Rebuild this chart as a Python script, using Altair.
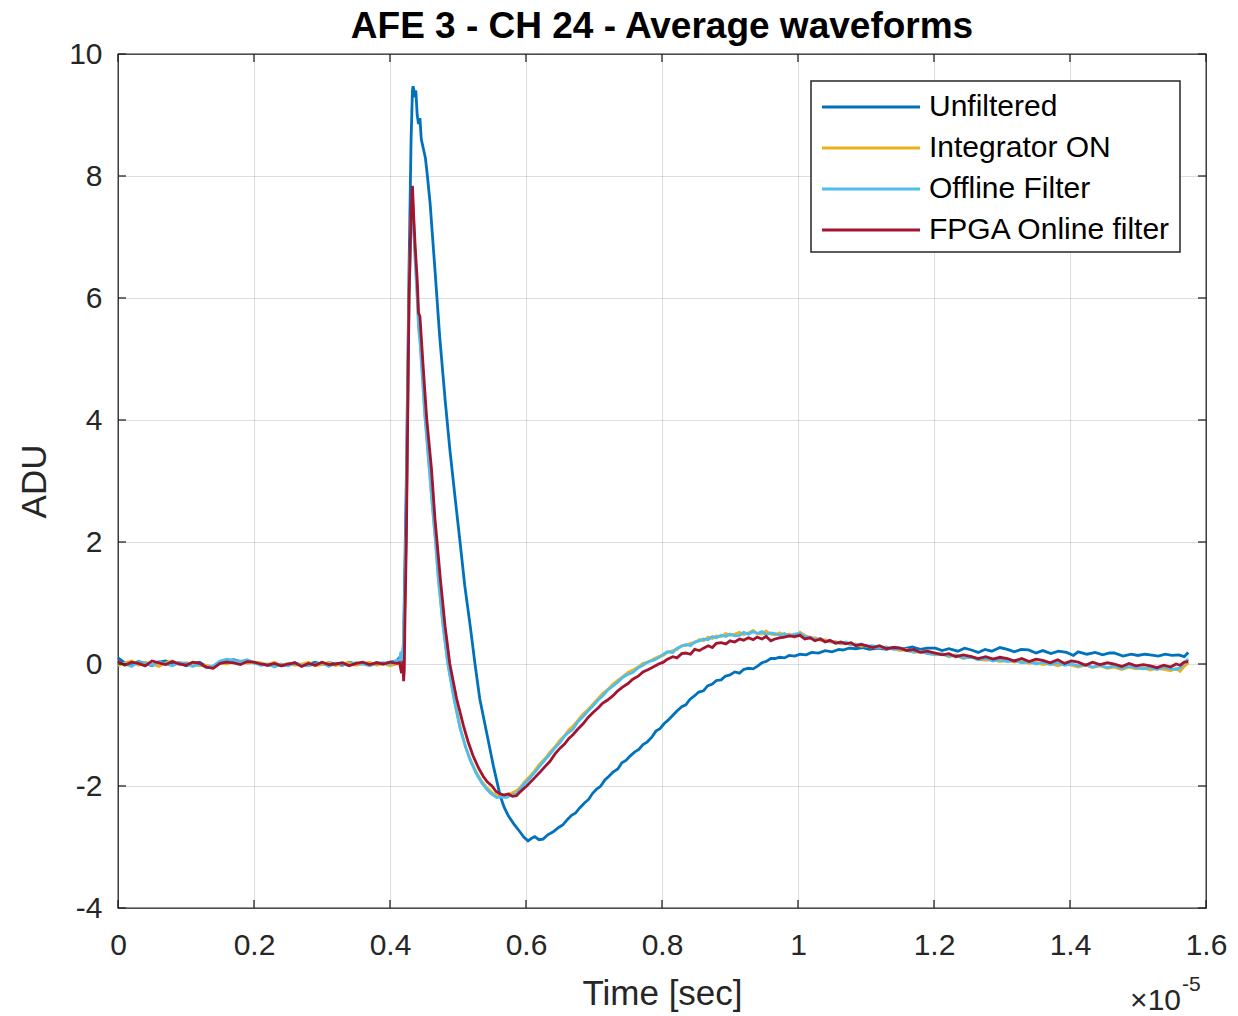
import altair as alt
import pandas as pd

# ---------------- data (time in units of 1e-5 s, amplitude in ADU) ----------------
series_names = ["Unfiltered", "Integrator ON", "Offline Filter", "FPGA Online filter"]
series_colors = ["#0072BD", "#EDB120", "#4DBEEE", "#A2142F"]

t_base = [0.000, 0.010, 0.020, 0.030, 0.040, 0.050, 0.060, 0.070, 0.080, 0.090,
          0.100, 0.110, 0.120, 0.130, 0.140, 0.150, 0.160, 0.170, 0.180, 0.190,
          0.200, 0.210, 0.220, 0.230, 0.240, 0.250, 0.260, 0.270, 0.280, 0.290,
          0.300, 0.310, 0.320, 0.330, 0.340, 0.350, 0.360, 0.370, 0.380, 0.390,
          0.400, 0.410]

base_unfiltered = [0.10, 0.02, -0.02, 0.04, 0.01, -0.03, 0.03, 0.05, 0.00, 0.02,
                   -0.03, 0.01, 0.03, -0.04, -0.06, 0.02, 0.05, 0.07, 0.04, 0.06,
                   0.02, 0.01, -0.02, 0.00, -0.03, -0.01, 0.02, -0.02, 0.00, 0.03,
                   -0.01, 0.02, 0.00, -0.02, 0.03, 0.00, 0.01, -0.02, 0.02, 0.00,
                   0.03, 0.05]
base_integrator = [-0.03, 0.02, 0.05, -0.02, 0.03, 0.00, -0.04, 0.02, 0.05, -0.01,
                   0.02, 0.00, -0.03, -0.02, -0.05, 0.02, 0.00, 0.04, 0.05, 0.01,
                   0.03, 0.02, -0.01, 0.03, -0.02, 0.01, -0.02, 0.00, 0.03, -0.03,
                   -0.01, 0.02, -0.03, 0.01, 0.02, -0.02, 0.00, 0.03, -0.02, 0.01,
                   -0.03, 0.00]
base_offline = [0.02, 0.00, -0.04, 0.03, 0.01, -0.02, 0.04, 0.00, -0.03, 0.02,
                0.01, -0.04, 0.00, -0.06, -0.03, 0.05, 0.08, 0.06, 0.04, 0.07,
                0.02, -0.02, 0.00, -0.05, 0.00, -0.03, 0.01, -0.02, -0.03, 0.00,
                0.02, -0.04, 0.01, 0.00, -0.02, 0.02, 0.00, -0.03, 0.01, 0.02,
                0.00, 0.06]
base_fpga = [0.04, -0.02, 0.03, 0.01, -0.03, 0.05, 0.02, -0.01, 0.04, 0.00,
             -0.02, 0.03, 0.01, -0.05, -0.07, 0.01, 0.03, 0.02, -0.01, 0.04,
             0.03, 0.00, -0.02, 0.01, -0.03, 0.00, 0.02, -0.04, 0.01, -0.02,
             0.03, -0.01, 0.00, 0.02, -0.03, 0.01, 0.03, -0.01, 0.02, 0.00,
             0.03, 0.01]

pulse_unfiltered = [
    (0.415, 0.12), (0.419, 0.20), (0.420, 0.40), (0.424, 3.00), (0.428, 6.50),
    (0.431, 8.60), (0.433, 9.40), (0.434, 9.47), (0.436, 9.35), (0.438, 9.40),
    (0.440, 9.00), (0.442, 8.85), (0.444, 8.95), (0.446, 8.60), (0.449, 8.45),
    (0.452, 8.30), (0.455, 8.00), (0.459, 7.55), (0.466, 6.48), (0.473, 5.38),
    (0.481, 4.34), (0.488, 3.52), (0.496, 2.70), (0.503, 2.00), (0.510, 1.28),
    (0.518, 0.62), (0.525, 0.00), (0.532, -0.57), (0.542, -1.12), (0.552, -1.67),
    (0.562, -2.16), (0.568, -2.35), (0.574, -2.49), (0.582, -2.62), (0.591, -2.75),
    (0.597, -2.84), (0.603, -2.90), (0.609, -2.85), (0.613, -2.83), (0.619, -2.88),
    (0.625, -2.87), (0.632, -2.80), (0.640, -2.75), (0.648, -2.68), (0.654, -2.64),
    (0.660, -2.56), (0.667, -2.48), (0.673, -2.44), (0.679, -2.36), (0.686, -2.28),
    (0.692, -2.22), (0.698, -2.12), (0.704, -2.05), (0.710, -2.00), (0.716, -1.90),
    (0.722, -1.84), (0.728, -1.77), (0.735, -1.72), (0.741, -1.62), (0.747, -1.58),
    (0.753, -1.51), (0.760, -1.44), (0.766, -1.40), (0.772, -1.32), (0.778, -1.28),
    (0.785, -1.20), (0.791, -1.10), (0.797, -1.06), (0.803, -0.98), (0.810, -0.91),
    (0.816, -0.84), (0.822, -0.77), (0.829, -0.70), (0.835, -0.67), (0.841, -0.58),
    (0.848, -0.52), (0.854, -0.46), (0.861, -0.44), (0.867, -0.36), (0.874, -0.33),
    (0.880, -0.27), (0.887, -0.26), (0.893, -0.20), (0.900, -0.18), (0.907, -0.13),
    (0.914, -0.15), (0.920, -0.09), (0.927, -0.07), (0.934, -0.08), (0.940, -0.04),
    (0.947, 0.02), (0.953, 0.04), (0.960, 0.09), (0.966, 0.09), (0.973, 0.11),
    (0.980, 0.10), (0.987, 0.14), (0.995, 0.13), (1.003, 0.16), (1.012, 0.15),
    (1.020, 0.19), (1.030, 0.18), (1.040, 0.22), (1.050, 0.20), (1.060, 0.24),
    (1.066, 0.23), (1.075, 0.26), (1.085, 0.25), (1.095, 0.27), (1.105, 0.24),
    (1.118, 0.26), (1.130, 0.24), (1.142, 0.27), (1.155, 0.25), (1.168, 0.28),
    (1.180, 0.24), (1.190, 0.26), (1.202, 0.26), (1.212, 0.22), (1.222, 0.25),
    (1.235, 0.21), (1.245, 0.26), (1.255, 0.23), (1.265, 0.19), (1.275, 0.24),
    (1.285, 0.21), (1.297, 0.27), (1.308, 0.24), (1.318, 0.20), (1.328, 0.24),
    (1.339, 0.23), (1.350, 0.18), (1.360, 0.22), (1.372, 0.17), (1.383, 0.21),
    (1.395, 0.19), (1.405, 0.14), (1.412, 0.20), (1.425, 0.16), (1.437, 0.19),
    (1.448, 0.15), (1.458, 0.18), (1.465, 0.18), (1.478, 0.13), (1.490, 0.16),
    (1.500, 0.14), (1.510, 0.16), (1.518, 0.15), (1.530, 0.13), (1.540, 0.16),
    (1.550, 0.14), (1.560, 0.15), (1.568, 0.12), (1.574, 0.19),
]

pulse_offline = [
    (0.414, 0.05), (0.416, 0.20), (0.418, 0.05), (0.420, 0.30), (0.422, 1.20),
    (0.424, 2.40), (0.428, 6.00), (0.431, 7.20), (0.433, 7.60), (0.435, 7.10),
    (0.437, 6.60), (0.440, 6.00), (0.442, 5.50), (0.444, 5.30), (0.447, 4.80),
    (0.451, 4.10), (0.457, 3.30), (0.463, 2.50), (0.467, 2.00), (0.471, 1.40),
    (0.478, 0.62), (0.485, 0.00), (0.494, -0.57), (0.503, -1.05), (0.511, -1.35),
    (0.518, -1.58), (0.527, -1.80), (0.535, -1.95), (0.542, -2.05), (0.549, -2.13),
    (0.557, -2.19), (0.564, -2.18), (0.571, -2.19), (0.578, -2.15), (0.586, -2.13),
    (0.591, -2.05), (0.598, -1.96), (0.605, -1.88), (0.612, -1.79), (0.620, -1.68),
    (0.628, -1.57), (0.635, -1.48), (0.643, -1.37), (0.650, -1.29), (0.657, -1.18),
    (0.663, -1.12), (0.669, -1.07), (0.676, -0.95), (0.684, -0.86), (0.691, -0.77),
    (0.699, -0.68), (0.706, -0.59), (0.713, -0.52), (0.720, -0.43), (0.728, -0.36),
    (0.735, -0.30), (0.742, -0.22), (0.750, -0.17), (0.757, -0.14), (0.765, -0.06),
    (0.772, -0.02), (0.780, 0.04), (0.787, 0.06), (0.795, 0.10), (0.802, 0.16),
    (0.808, 0.20), (0.816, 0.19), (0.822, 0.26), (0.829, 0.29), (0.835, 0.32),
    (0.842, 0.30), (0.848, 0.36), (0.855, 0.38), (0.861, 0.41), (0.868, 0.40),
    (0.874, 0.45), (0.880, 0.43), (0.887, 0.47), (0.894, 0.45), (0.900, 0.49),
    (0.907, 0.46), (0.914, 0.47), (0.920, 0.52), (0.927, 0.49), (0.934, 0.53),
    (0.940, 0.50), (0.947, 0.53), (0.953, 0.48), (0.960, 0.51), (0.966, 0.50),
    (0.973, 0.47), (0.980, 0.50), (0.987, 0.46), (0.995, 0.49), (1.003, 0.50),
    (1.010, 0.45), (1.018, 0.44), (1.025, 0.40), (1.033, 0.42), (1.040, 0.37),
    (1.047, 0.38), (1.055, 0.35), (1.063, 0.34), (1.070, 0.36), (1.078, 0.32),
    (1.085, 0.31), (1.093, 0.33), (1.100, 0.29), (1.110, 0.30), (1.120, 0.27),
    (1.130, 0.28), (1.140, 0.24), (1.150, 0.25), (1.160, 0.22), (1.170, 0.20),
    (1.180, 0.21), (1.190, 0.17), (1.202, 0.16), (1.212, 0.17), (1.222, 0.13),
    (1.232, 0.14), (1.243, 0.10), (1.255, 0.11), (1.265, 0.07), (1.276, 0.09),
    (1.287, 0.05), (1.297, 0.07), (1.308, 0.04), (1.318, 0.06), (1.329, 0.02),
    (1.340, 0.04), (1.350, 0.00), (1.360, 0.03), (1.371, -0.01), (1.382, 0.02),
    (1.392, -0.02), (1.402, 0.00), (1.412, -0.03), (1.423, -0.01), (1.433, -0.05),
    (1.444, -0.02), (1.455, -0.06), (1.465, -0.03), (1.476, -0.07), (1.487, -0.04),
    (1.497, -0.06), (1.508, -0.08), (1.518, -0.06), (1.528, -0.09), (1.538, -0.05),
    (1.548, -0.08), (1.556, -0.09), (1.562, -0.06), (1.568, 0.02), (1.574, 0.08),
]

pulse_integrator = [
    (0.414, 0.03), (0.416, 0.10), (0.418, 0.02), (0.420, 0.25), (0.422, 1.10),
    (0.424, 2.30), (0.428, 6.10), (0.431, 7.30), (0.433, 7.70), (0.435, 7.20),
    (0.437, 6.70), (0.440, 6.10), (0.442, 5.60), (0.444, 5.35), (0.447, 4.85),
    (0.451, 4.15), (0.457, 3.30), (0.463, 2.50), (0.467, 2.00), (0.471, 1.42),
    (0.478, 0.64), (0.485, 0.02), (0.494, -0.55), (0.503, -1.03), (0.511, -1.36),
    (0.518, -1.56), (0.527, -1.78), (0.535, -1.93), (0.542, -2.02), (0.549, -2.10),
    (0.557, -2.16), (0.564, -2.17), (0.571, -2.14), (0.578, -2.12), (0.586, -2.08),
    (0.591, -2.03), (0.598, -1.93), (0.605, -1.85), (0.612, -1.76), (0.620, -1.64),
    (0.628, -1.55), (0.635, -1.45), (0.643, -1.35), (0.650, -1.25), (0.657, -1.17),
    (0.663, -1.08), (0.669, -1.02), (0.676, -0.93), (0.684, -0.82), (0.691, -0.75),
    (0.699, -0.65), (0.706, -0.57), (0.713, -0.48), (0.720, -0.42), (0.728, -0.33),
    (0.735, -0.27), (0.742, -0.21), (0.750, -0.14), (0.757, -0.10), (0.765, -0.05),
    (0.772, 0.01), (0.780, 0.03), (0.787, 0.08), (0.795, 0.12), (0.802, 0.14),
    (0.808, 0.19), (0.816, 0.22), (0.822, 0.24), (0.829, 0.30), (0.835, 0.30),
    (0.842, 0.34), (0.848, 0.35), (0.855, 0.40), (0.861, 0.38), (0.868, 0.44),
    (0.874, 0.42), (0.880, 0.46), (0.887, 0.45), (0.894, 0.50), (0.900, 0.47),
    (0.907, 0.49), (0.914, 0.52), (0.920, 0.48), (0.927, 0.51), (0.934, 0.55),
    (0.940, 0.50), (0.947, 0.49), (0.953, 0.54), (0.960, 0.49), (0.966, 0.48),
    (0.973, 0.51), (0.980, 0.47), (0.987, 0.49), (0.995, 0.44), (1.003, 0.52),
    (1.010, 0.47), (1.018, 0.42), (1.025, 0.43), (1.033, 0.39), (1.040, 0.40),
    (1.047, 0.36), (1.055, 0.37), (1.063, 0.33), (1.070, 0.34), (1.078, 0.31),
    (1.085, 0.33), (1.093, 0.29), (1.100, 0.30), (1.110, 0.27), (1.120, 0.28),
    (1.130, 0.25), (1.140, 0.26), (1.150, 0.22), (1.160, 0.24), (1.170, 0.19),
    (1.180, 0.20), (1.190, 0.18), (1.202, 0.15), (1.212, 0.16), (1.222, 0.12),
    (1.232, 0.15), (1.243, 0.09), (1.255, 0.12), (1.265, 0.08), (1.276, 0.06),
    (1.287, 0.08), (1.297, 0.04), (1.308, 0.06), (1.318, 0.03), (1.329, 0.05),
    (1.340, 0.01), (1.350, 0.03), (1.360, -0.01), (1.371, 0.01), (1.382, -0.03),
    (1.392, 0.00), (1.402, -0.02), (1.412, -0.05), (1.423, -0.02), (1.433, -0.06),
    (1.444, -0.03), (1.455, -0.07), (1.465, -0.05), (1.476, -0.09), (1.487, -0.05),
    (1.497, -0.08), (1.508, -0.06), (1.518, -0.10), (1.528, -0.07), (1.538, -0.09),
    (1.548, -0.11), (1.556, -0.07), (1.562, -0.12), (1.568, -0.04), (1.574, 0.02),
]

pulse_fpga = [
    (0.414, 0.02), (0.417, -0.15), (0.419, 0.05), (0.420, -0.28), (0.421, -0.10),
    (0.422, 0.74), (0.424, 2.00), (0.428, 6.00), (0.431, 7.40), (0.433, 7.84),
    (0.435, 7.30), (0.437, 6.85), (0.440, 6.30), (0.442, 5.75), (0.444, 5.70),
    (0.449, 4.84), (0.454, 4.02), (0.461, 3.20), (0.466, 2.40), (0.470, 1.90),
    (0.474, 1.40), (0.481, 0.62), (0.488, 0.00), (0.498, -0.57), (0.508, -1.01),
    (0.515, -1.28), (0.522, -1.50), (0.530, -1.70), (0.537, -1.84), (0.543, -1.93),
    (0.550, -2.00), (0.556, -2.09), (0.562, -2.13), (0.568, -2.15), (0.574, -2.13),
    (0.580, -2.17), (0.586, -2.16), (0.591, -2.10), (0.596, -2.05), (0.601, -2.00),
    (0.608, -1.92), (0.614, -1.85), (0.620, -1.78), (0.628, -1.68), (0.635, -1.60),
    (0.643, -1.47), (0.650, -1.38), (0.657, -1.31), (0.663, -1.22), (0.669, -1.16),
    (0.676, -1.07), (0.684, -0.98), (0.691, -0.88), (0.699, -0.79), (0.706, -0.72),
    (0.713, -0.64), (0.720, -0.59), (0.728, -0.52), (0.735, -0.44), (0.742, -0.38),
    (0.750, -0.32), (0.757, -0.25), (0.765, -0.20), (0.772, -0.13), (0.780, -0.09),
    (0.787, -0.05), (0.795, 0.00), (0.802, 0.03), (0.808, 0.08), (0.816, 0.12),
    (0.822, 0.10), (0.829, 0.17), (0.835, 0.18), (0.842, 0.16), (0.848, 0.24),
    (0.855, 0.22), (0.861, 0.26), (0.868, 0.30), (0.874, 0.27), (0.880, 0.34),
    (0.887, 0.35), (0.894, 0.33), (0.900, 0.38), (0.907, 0.36), (0.914, 0.41),
    (0.920, 0.39), (0.927, 0.43), (0.934, 0.40), (0.940, 0.44), (0.947, 0.41),
    (0.953, 0.45), (0.960, 0.38), (0.966, 0.41), (0.973, 0.43), (0.980, 0.44),
    (0.987, 0.46), (0.995, 0.45), (1.003, 0.47), (1.010, 0.41), (1.018, 0.43),
    (1.025, 0.38), (1.033, 0.41), (1.040, 0.36), (1.047, 0.39), (1.055, 0.34),
    (1.063, 0.36), (1.070, 0.33), (1.078, 0.35), (1.085, 0.30), (1.093, 0.32),
    (1.100, 0.30), (1.110, 0.27), (1.120, 0.30), (1.130, 0.25), (1.140, 0.27),
    (1.150, 0.26), (1.160, 0.22), (1.170, 0.24), (1.180, 0.19), (1.190, 0.21),
    (1.202, 0.18), (1.212, 0.15), (1.222, 0.17), (1.232, 0.12), (1.243, 0.15),
    (1.255, 0.12), (1.265, 0.09), (1.276, 0.12), (1.287, 0.08), (1.297, 0.11),
    (1.308, 0.09), (1.318, 0.05), (1.329, 0.09), (1.340, 0.04), (1.350, 0.08),
    (1.360, 0.06), (1.371, 0.02), (1.382, 0.07), (1.392, 0.01), (1.402, 0.05),
    (1.412, 0.03), (1.423, -0.02), (1.433, 0.03), (1.444, -0.01), (1.455, 0.02),
    (1.465, 0.00), (1.476, -0.04), (1.487, 0.01), (1.497, -0.03), (1.508, -0.01),
    (1.518, -0.03), (1.528, -0.06), (1.538, -0.02), (1.548, -0.05), (1.556, 0.00),
    (1.562, -0.02), (1.568, 0.03), (1.574, 0.04),
]

x_ticks = [0, 0.2, 0.4, 0.6, 0.8, 1, 1.2, 1.4, 1.6]
y_ticks = [-4, -2, 0, 2, 4, 6, 8, 10]
title_text = "AFE 3 - CH 24 - Average waveforms"

# ---------------- build table ----------------
rows = []
for name, base, pulse in [
    ("Unfiltered", base_unfiltered, pulse_unfiltered),
    ("Integrator ON", base_integrator, pulse_integrator),
    ("Offline Filter", base_offline, pulse_offline),
    ("FPGA Online filter", base_fpga, pulse_fpga),
]:
    for t, v in zip(t_base, base):
        rows.append({"series": name, "t": t, "v": v})
    for t, v in pulse:
        rows.append({"series": name, "t": t, "v": v})
df = pd.DataFrame(rows)

FONT = "Liberation Sans"
INK = "#262626"
LW = 2.8

xscale = alt.Scale(domain=[0, 1.6], nice=False, zero=False)
yscale = alt.Scale(domain=[-4, 10], nice=False, zero=False)

x_enc = alt.X("t:Q", scale=xscale,
              axis=alt.Axis(values=x_ticks, format="~g", title="Time [sec]",
                            labelFlush=False,
                            titleX=544, titleY=85, titleBaseline="middle",
                            labelBaseline="middle", labelPadding=37))
y_enc = alt.Y("v:Q", scale=yscale,
              axis=alt.Axis(values=y_ticks, title="ADU",
                            labelExpr="'' + datum.value", labelFlush=False,
                            titleX=-84, titleY=427, titleAngle=-90,
                            titleAlign="center", titleBaseline="middle",
                            labelPadding=16))

color_scale = alt.Scale(domain=series_names, range=series_colors)

layers = []
for name in series_names:
    layers.append(
        alt.Chart(df)
        .transform_filter(alt.datum.series == name)
        .mark_line(strokeWidth=LW)
        .encode(x=x_enc, y=y_enc,
                color=alt.Color("series:N", scale=color_scale, legend=None),
                order="t:Q")
    )

# inward tick marks on all four sides
tick_rows = []
for t in x_ticks:
    tick_rows.append({"x": t, "x2": t, "y": -4, "y2": -3.87})
    tick_rows.append({"x": t, "x2": t, "y": 10, "y2": 9.87})
for t in y_ticks:
    tick_rows.append({"x": 0, "x2": 0.0118, "y": t, "y2": t})
    tick_rows.append({"x": 1.6, "x2": 1.5882, "y": t, "y2": t})
ticks = alt.Chart(pd.DataFrame(tick_rows)).mark_rule(color=INK, strokeWidth=1.3).encode(
    x=alt.X("x:Q", scale=xscale), x2="x2:Q",
    y=alt.Y("y:Q", scale=yscale), y2="y2:Q",
)

# ---------------- legend box (MATLAB style) ----------------
leg_df = pd.DataFrame({
    "series": series_names,
    "ly": [53 + 41 * i for i in range(len(series_names))],
    "lx1": [704] * 4, "lx2": [802] * 4, "tx": [811] * 4,
})
leg_box = alt.Chart(pd.DataFrame({"k": [0]})).mark_rect(
    fill="white", stroke=INK, strokeWidth=1.5
).encode(x=alt.value(693), x2=alt.value(1062), y=alt.value(27), y2=alt.value(198))
leg_lines = alt.Chart(leg_df).mark_rule(strokeWidth=LW).encode(
    x=alt.X("lx1:Q", scale=None), x2="lx2:Q",
    y=alt.Y("ly:Q", scale=None),
    color=alt.Color("series:N", scale=color_scale, legend=None),
)
leg_text = alt.Chart(leg_df).mark_text(
    font=FONT, fontSize=30, color="#000000", align="left", baseline="middle"
).encode(x=alt.X("tx:Q", scale=None), y=alt.Y("ly:Q", scale=None), text="series:N")

# ---------------- title and exponent ----------------
title_mark = alt.Chart(pd.DataFrame({"txt": [title_text]})).mark_text(
    font=FONT, fontSize=37, fontWeight="bold", color="#000000",
    align="center", baseline="alphabetic"
).encode(text="txt:N", x=alt.value(544), y=alt.value(-16))

exp_main = alt.Chart(pd.DataFrame({"txt": ["\u00d710"]})).mark_text(
    font=FONT, fontSize=30, color=INK, align="right", baseline="middle"
).encode(text="txt:N", x=alt.value(1063), y=alt.value(947))
exp_sup = alt.Chart(pd.DataFrame({"txt": ["-5"]})).mark_text(
    font=FONT, fontSize=21, color=INK, align="left", baseline="middle"
).encode(text="txt:N", x=alt.value(1064), y=alt.value(931))

chart = (
    alt.layer(*layers, ticks, leg_box, leg_lines, leg_text, title_mark, exp_main, exp_sup)
    .properties(
        width=1088, height=854,
        autosize=alt.AutoSizeParams(type="none"),
        padding={"left": 118, "top": 54, "right": 32, "bottom": 108},
        background="white",
    )
    .configure_view(stroke=INK, strokeWidth=1.3)
    .configure_axis(
        domain=False, ticks=False, tickSize=0,
        grid=True, gridColor="#000000", gridOpacity=0.13, gridWidth=1,
        labelFont=FONT, labelFontSize=30, labelColor=INK,
        titleFont=FONT, titleFontSize=35, titleFontWeight="normal", titleColor=INK,
    )
)

chart.save("out.html", embed_options={"renderer": "svg", "actions": False})
